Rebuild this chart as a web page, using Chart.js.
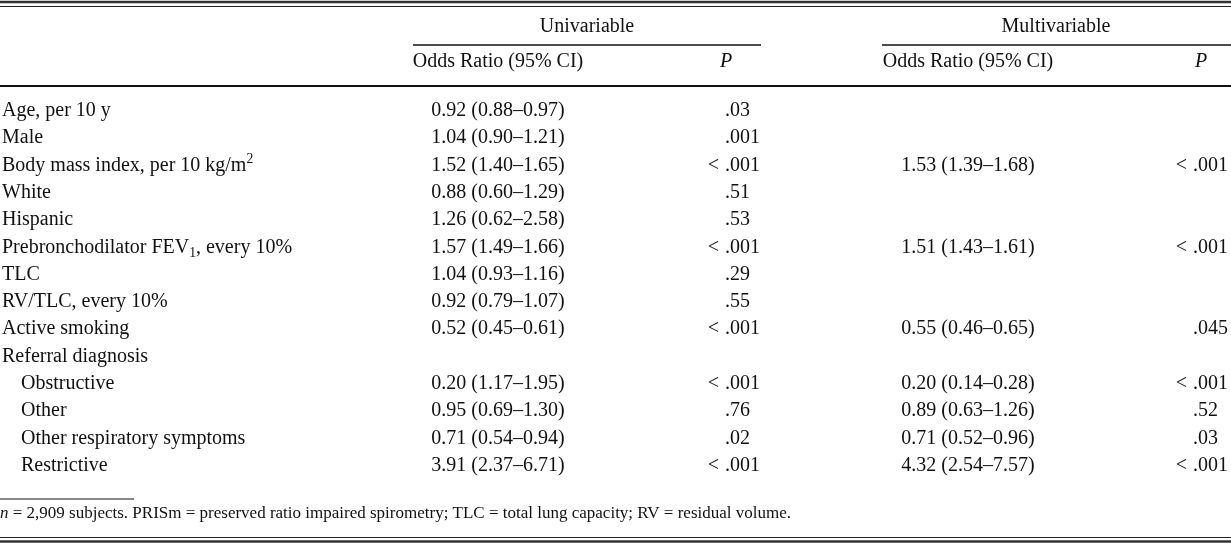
<!DOCTYPE html>
<html>
<head>
<meta charset="utf-8">
<script src="https://cdn.jsdelivr.net/npm/chart.js@4.4.1/dist/chart.umd.min.js"></script>
<style>
  html, body { margin: 0; padding: 0; background: #fff; }
  canvas { display: block; }
</style>
</head>
<body>
<canvas id="table" width="1231" height="544"></canvas>
<script>
'use strict';

// ---- table content ----
// ^{..} = superscript, _{..} = subscript
const rowLabels = [
  'Age, per 10 y',
  'Male',
  'Body mass index, per 10 kg/m^{2}',
  'White',
  'Hispanic',
  'Prebronchodilator FEV_{1}, every 10%',
  'TLC',
  'RV/TLC, every 10%',
  'Active smoking',
  'Referral diagnosis',
  'Obstructive',
  'Other',
  'Other respiratory symptoms',
  'Restrictive',
];
const rowIndent = [0, 0, 0, 0, 0, 0, 0, 0, 0, 0, 1, 1, 1, 1];

const uniOdds = [
  '0.92 (0.88–0.97)', '1.04 (0.90–1.21)', '1.52 (1.40–1.65)', '0.88 (0.60–1.29)',
  '1.26 (0.62–2.58)', '1.57 (1.49–1.66)', '1.04 (0.93–1.16)', '0.92 (0.79–1.07)',
  '0.52 (0.45–0.61)', '', '0.20 (1.17–1.95)', '0.95 (0.69–1.30)',
  '0.71 (0.54–0.94)', '3.91 (2.37–6.71)',
];
const uniP = ['.03', '.001', '< .001', '.51', '.53', '< .001', '.29', '.55', '< .001', '', '< .001', '.76', '.02', '< .001'];

const multiOdds = [
  '', '', '1.53 (1.39–1.68)', '', '', '1.51 (1.43–1.61)', '', '',
  '0.55 (0.46–0.65)', '', '0.20 (0.14–0.28)', '0.89 (0.63–1.26)',
  '0.71 (0.52–0.96)', '4.32 (2.54–7.57)',
];
const multiP = ['', '', '< .001', '', '', '< .001', '', '', '.045', '', '< .001', '.52', '.03', '< .001'];

const groupTitles = ['Univariable', 'Multivariable'];
const oddsHead = 'Odds Ratio (95% CI)';
const pHead = 'P';
const footNote = [
  { t: 'n', italic: true },
  { t: ' = 2,909 subjects. PRISm = preserved ratio impaired spirometry; TLC = total lung capacity; RV = residual volume.', italic: false },
];

// ---- layout (y in row units, x in canvas units) ----
const ROW_PX = 27.3;
const Y_MIN = -116 / ROW_PX;
const Y_MAX = Y_MIN + 544 / ROW_PX;
const rowVal = px => Y_MIN + px / ROW_PX;

const FONT = '"Liberation Serif", "Times New Roman", serif';
const INK = '#111';

const COL = {
  label: 2, indent: 21,
  uniOdds: 498, uniDot: 725,
  multiOdds: 968, multiDot: 1193,
  uniTitle: 587, multiTitle: 1056,
  uniPHead: 720, multiPHead: 1195,
};

const rules = [
  { y: rowVal(2),     x0: 0,   x1: 1231, w: 2.4, c: '#333' },
  { y: rowVal(6.5),   x0: 0,   x1: 1231, w: 1.2, c: '#222' },
  { y: rowVal(45),    x0: 413, x1: 761,  w: 1.6, c: '#111' },
  { y: rowVal(45),    x0: 882, x1: 1231, w: 1.6, c: '#111' },
  { y: rowVal(86),    x0: 0,   x1: 1231, w: 1.8, c: '#111' },
  { y: rowVal(499),   x0: 0,   x1: 134,  w: 1.2, c: '#111' },
  { y: rowVal(537.5), x0: 0,   x1: 1231, w: 1.2, c: '#222' },
  { y: rowVal(541.5), x0: 0,   x1: 1231, w: 2.4, c: '#333' },
];

function drawRich(ctx, str, px, py, size) {
  const parts = str.split(/(\^\{[^}]*\}|_\{[^}]*\})/).filter(Boolean);
  let cx = px;
  for (const p of parts) {
    let txt = p, sz = size, dy = 0;
    if (p.startsWith('^{')) { txt = p.slice(2, -1); sz = size * 0.68; dy = -size * 0.38; }
    else if (p.startsWith('_{')) { txt = p.slice(2, -1); sz = size * 0.68; dy = size * 0.2; }
    ctx.font = `${sz}px ${FONT}`;
    ctx.fillText(txt, cx, py + dy);
    cx += ctx.measureText(txt).width;
  }
}

function drawP(ctx, str, dotX, py) {
  if (!str) return;
  const i = str.indexOf('.');
  const pre = str.slice(0, i).trim();
  ctx.textAlign = 'left';
  ctx.fillText(str.slice(i), dotX, py);
  if (pre) {
    ctx.textAlign = 'right';
    ctx.fillText(pre, dotX - 6, py);
  }
}

const tableText = {
  id: 'tableText',
  afterDatasetsDraw(chart) {
    const { ctx, scales: { x, y } } = chart;
    ctx.save();
    ctx.fillStyle = INK;
    ctx.textBaseline = 'alphabetic';

    // group titles
    ctx.font = `20px ${FONT}`;
    ctx.textAlign = 'center';
    ctx.fillText(groupTitles[0], x.getPixelForValue(COL.uniTitle), y.getPixelForValue(rowVal(32)));
    ctx.fillText(groupTitles[1], x.getPixelForValue(COL.multiTitle), y.getPixelForValue(rowVal(32)));

    // column heads
    const hy = y.getPixelForValue(rowVal(67));
    ctx.fillText(oddsHead, x.getPixelForValue(COL.uniOdds), hy);
    ctx.fillText(oddsHead, x.getPixelForValue(COL.multiOdds), hy);
    ctx.font = `italic 20px ${FONT}`;
    ctx.textAlign = 'left';
    ctx.fillText(pHead, x.getPixelForValue(COL.uniPHead), hy);
    ctx.fillText(pHead, x.getPixelForValue(COL.multiPHead), hy);

    // body rows
    rowLabels.forEach((lab, i) => {
      const py = y.getPixelForValue(i);
      ctx.textAlign = 'left';
      drawRich(ctx, lab, x.getPixelForValue(rowIndent[i] ? COL.indent : COL.label), py, 20);
      ctx.font = `20px ${FONT}`;
      ctx.textAlign = 'center';
      if (uniOdds[i]) ctx.fillText(uniOdds[i], x.getPixelForValue(COL.uniOdds), py);
      if (multiOdds[i]) ctx.fillText(multiOdds[i], x.getPixelForValue(COL.multiOdds), py);
      drawP(ctx, uniP[i], x.getPixelForValue(COL.uniDot), py);
      drawP(ctx, multiP[i], x.getPixelForValue(COL.multiDot), py);
    });

    // footnote
    const fy = y.getPixelForValue(rowVal(518));
    let fx = x.getPixelForValue(0);
    ctx.textAlign = 'left';
    for (const seg of footNote) {
      ctx.font = `${seg.italic ? 'italic ' : ''}17px ${FONT}`;
      ctx.fillText(seg.t, fx, fy);
      fx += ctx.measureText(seg.t).width;
    }
    ctx.restore();
  }
};

new Chart(document.getElementById('table'), {
  type: 'line',
  data: {
    datasets: rules.map(r => ({
      data: [{ x: r.x0, y: r.y }, { x: r.x1, y: r.y }],
      borderColor: r.c,
      borderWidth: r.w,
      pointRadius: 0,
      fill: false,
    })),
  },
  options: {
    responsive: false,
    animation: false,
    layout: { padding: 0 },
    plugins: { legend: { display: false }, tooltip: { enabled: false } },
    scales: {
      x: { type: 'linear', min: 0, max: 1231, display: false },
      y: { type: 'linear', min: Y_MIN, max: Y_MAX, reverse: true, display: false },
    },
  },
  plugins: [tableText],
});
</script>
</body>
</html>
